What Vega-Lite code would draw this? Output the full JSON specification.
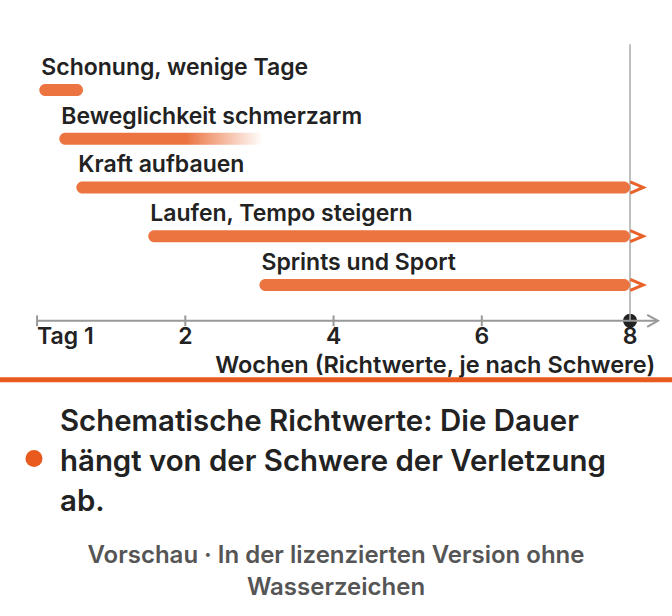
{
  "$schema": "https://vega.github.io/schema/vega-lite/v6.json",
  "width": 672,
  "height": 616,
  "autosize": "none",
  "padding": 0,
  "background": "white",
  "config": {"view": {"stroke": null}, "font": "Inter", "axis": {"disable": true}},
  "datasets": {
    "phases": [
      {"phase": "Schonung, wenige Tage", "row": 1, "start": 0.03, "end": 0.62, "open": false},
      {"phase": "Beweglichkeit schmerzarm", "row": 2, "start": 0.3, "end": 3.05, "open": false},
      {"phase": "Kraft aufbauen", "row": 3, "start": 0.53, "end": 8, "open": true},
      {"phase": "Laufen, Tempo steigern", "row": 4, "start": 1.5, "end": 8, "open": true},
      {"phase": "Sprints und Sport", "row": 5, "start": 3.0, "end": 8, "open": true}
    ],
    "ticks": [
      {"value": 0, "label": "Tag 1"},
      {"value": 2, "label": "2"},
      {"value": 4, "label": "4"},
      {"value": 6, "label": "6"},
      {"value": 8, "label": "8"}
    ],
    "one": [{}]
  },
  "layer": [
    {
      "data": {"name": "one"},
      "mark": {"type": "point", "filled": true, "color": "#222222", "opacity": 1, "size": 196},
      "encoding": {
        "x": {"datum": 8, "type": "quantitative", "scale": {"domain": [-0.5, 8.566], "nice": false, "zero": false}},
        "y": {"datum": 5.7374, "type": "quantitative", "scale": {"domain": [-0.74747, 11.69697], "nice": false, "zero": false, "reverse": true}}
      }
    },
    {
      "data": {"name": "one"},
      "mark": {"type": "rule", "color": "#aaaaaa", "strokeWidth": 1.5},
      "encoding": {
        "x": {"datum": 8, "type": "quantitative"},
        "y": {"datum": 0.0606, "type": "quantitative"},
        "y2": {"datum": 5.7374}
      }
    },
    {
      "data": {"name": "one"},
      "mark": {"type": "rule", "color": "#999999", "strokeWidth": 2},
      "encoding": {
        "x": {"datum": 0, "type": "quantitative"},
        "x2": {"datum": 8.377},
        "y": {"datum": 5.7374, "type": "quantitative"}
      }
    },
    {
      "data": {"name": "ticks"},
      "transform": [{"filter": "datum.value < 8"}],
      "mark": {"type": "rule", "color": "#999999", "strokeWidth": 2},
      "encoding": {
        "x": {"field": "value", "type": "quantitative"},
        "y": {"datum": 5.6263, "type": "quantitative"},
        "y2": {"datum": 5.8485}
      }
    },
    {
      "data": {"name": "one"},
      "mark": {"type": "point", "shape": "M-0.9,-1L0.9,0L-0.9,1", "filled": false, "stroke": "#999999", "strokeWidth": 2, "opacity": 1, "size": 144},
      "encoding": {
        "x": {"datum": 8.304, "type": "quantitative"},
        "y": {"datum": 5.7374, "type": "quantitative"}
      }
    },
    {
      "data": {"name": "ticks"},
      "transform": [{"filter": "datum.value == 0"}],
      "mark": {"type": "text", "align": "left", "baseline": "alphabetic", "fontSize": 23, "fontWeight": 600, "color": "#222222"},
      "encoding": {
        "x": {"field": "value", "type": "quantitative"},
        "y": {"datum": 6.2121, "type": "quantitative"},
        "text": {"field": "label"}
      }
    },
    {
      "data": {"name": "ticks"},
      "transform": [{"filter": "datum.value > 0"}],
      "mark": {"type": "text", "align": "center", "baseline": "alphabetic", "fontSize": 23, "fontWeight": 600, "color": "#222222"},
      "encoding": {
        "x": {"field": "value", "type": "quantitative"},
        "y": {"datum": 6.2121, "type": "quantitative"},
        "text": {"field": "label"}
      }
    },
    {
      "data": {"name": "one"},
      "mark": {"type": "text", "align": "right", "baseline": "alphabetic", "fontSize": 23.5, "fontWeight": 600, "color": "#222222", "text": "Wochen (Richtwerte, je nach Schwere)"},
      "encoding": {
        "x": {"datum": 8.34, "type": "quantitative"},
        "y": {"datum": 6.8081, "type": "quantitative"}
      }
    },
    {
      "data": {"name": "phases"},
      "transform": [{"filter": "datum.row != 2"}],
      "mark": {"type": "bar", "orient": "horizontal", "size": 12, "cornerRadius": 6, "color": "#EB7441"},
      "encoding": {
        "x": {"field": "start", "type": "quantitative"},
        "x2": {"field": "end"},
        "y": {"field": "row", "type": "quantitative"}
      }
    },
    {
      "data": {"name": "phases"},
      "transform": [{"filter": "datum.row == 2"}],
      "mark": {
        "type": "bar", "orient": "horizontal", "size": 12, "cornerRadius": 6,
        "fill": {
          "gradient": "linear", "x1": 0, "y1": 0, "x2": 1, "y2": 0,
          "stops": [
            {"offset": 0, "color": "#EB7441"},
            {"offset": 0.62, "color": "#EB7441"},
            {"offset": 1, "color": "rgba(235,116,65,0)"}
          ]
        }
      },
      "encoding": {
        "x": {"field": "start", "type": "quantitative"},
        "x2": {"field": "end"},
        "y": {"field": "row", "type": "quantitative"}
      }
    },
    {
      "data": {"name": "phases"},
      "transform": [{"filter": "datum.open"}],
      "mark": {"type": "point", "shape": "M-1,-0.85L1,0L-1,0.85", "filled": false, "stroke": "#E8622A", "strokeWidth": 3, "strokeJoin": "miter", "opacity": 1, "size": 169},
      "encoding": {
        "x": {"datum": 8.09, "type": "quantitative"},
        "y": {"field": "row", "type": "quantitative"}
      }
    },
    {
      "data": {"name": "phases"},
      "mark": {"type": "text", "align": "left", "baseline": "alphabetic", "dx": 2, "dy": -15, "fontSize": 23, "fontWeight": 600, "color": "#222222"},
      "encoding": {
        "x": {"field": "start", "type": "quantitative"},
        "y": {"field": "row", "type": "quantitative"},
        "text": {"field": "phase"}
      }
    },
    {
      "data": {"name": "one"},
      "mark": {"type": "rule", "color": "#E85A1E", "strokeWidth": 5},
      "encoding": {
        "x": {"datum": -0.5, "type": "quantitative"},
        "x2": {"datum": 8.566},
        "y": {"datum": 6.9495, "type": "quantitative"}
      }
    },
    {
      "data": {"name": "one"},
      "mark": {"type": "point", "filled": true, "color": "#E85A1E", "opacity": 1, "size": 289},
      "encoding": {
        "x": {"datum": -0.0413, "type": "quantitative"},
        "y": {"datum": 8.5657, "type": "quantitative"}
      }
    },
    {
      "data": {"name": "one"},
      "mark": {"type": "text", "align": "left", "baseline": "alphabetic", "lineHeight": 40, "fontSize": 29.4, "fontWeight": 600, "color": "#222222",
        "text": ["Schematische Richtwerte: Die Dauer", "hängt von der Schwere der Verletzung", "ab."]},
      "encoding": {
        "x": {"datum": 0.3095, "type": "quantitative"},
        "y": {"datum": 8.0, "type": "quantitative"}
      }
    },
    {
      "data": {"name": "one"},
      "mark": {"type": "text", "align": "center", "baseline": "alphabetic", "lineHeight": 32, "fontSize": 24, "fontWeight": 600, "color": "#555555",
        "text": ["Vorschau · In der lizenzierten Version ohne", "Wasserzeichen"]},
      "encoding": {
        "x": {"datum": 4.033, "type": "quantitative"},
        "y": {"datum": 10.7071, "type": "quantitative"}
      }
    }
  ]
}
